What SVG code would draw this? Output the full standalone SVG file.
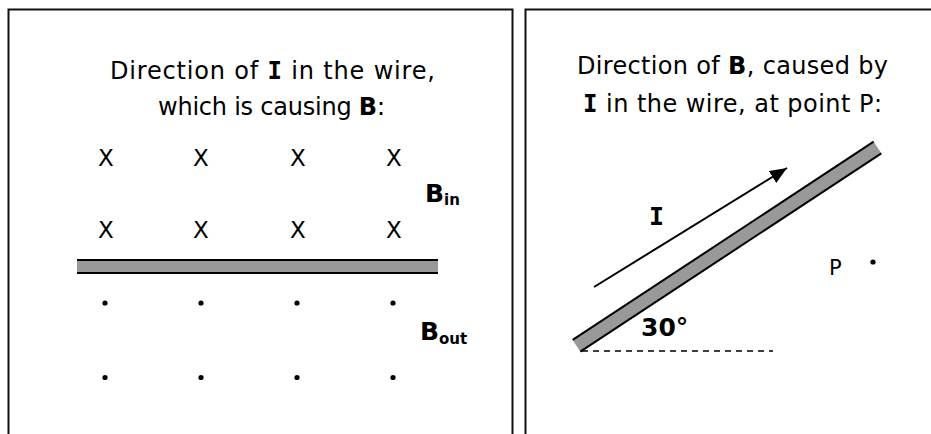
<svg xmlns="http://www.w3.org/2000/svg" width="931" height="434" viewBox="0 0 931 434">
  <style>
    .frame { fill: none; stroke: #111; stroke-width: 2; }
    .t { font-family: "DejaVu Sans", sans-serif; font-size: 24px; fill: #000; }
    .b { font-weight: bold; }
    .big { font-size: 25px; }
    .mono { font-family: "DejaVu Sans Mono", monospace; font-weight: bold; }
    .x { font-family: "DejaVu Sans", sans-serif; font-size: 23px; fill: #000; text-anchor: middle; }
    .wire { fill: #999; stroke: none; }
    .edge { stroke: #000; stroke-width: 2; fill: none; }
    .dot { fill: #000; }
    .sub { font-size: 15px; font-weight: bold; }
  </style>
  <defs>
    <marker id="arrow" markerUnits="userSpaceOnUse" markerWidth="18" markerHeight="14" refX="17" refY="7" orient="auto">
      <path d="M0,0 L17,7 L0,14 z" fill="#000"/>
    </marker>
  </defs>

  <g id="panel-left">
    <rect class="frame" x="8.5" y="9.5" width="504" height="440"/>
    <text class="t" x="110" y="79" textLength="325" lengthAdjust="spacing">Direction of <tspan class="mono">I</tspan> in the wire,</text>
    <text class="t" x="158" y="115" textLength="227" lengthAdjust="spacing">which is causing <tspan class="b">B</tspan>:</text>
    <g id="field-in">
      <text class="x" x="106" y="166">X</text>
      <text class="x" x="201" y="166">X</text>
      <text class="x" x="298" y="166">X</text>
      <text class="x" x="394" y="166">X</text>
      <text class="x" x="106" y="238">X</text>
      <text class="x" x="201" y="238">X</text>
      <text class="x" x="298" y="238">X</text>
      <text class="x" x="394" y="238">X</text>
    </g>
    <text id="label-bin" class="t b big" x="425" y="202">B<tspan class="sub" dy="3">in</tspan></text>
    <g id="wire-horizontal">
      <rect class="wire" x="77" y="260" width="361" height="13"/>
      <line class="edge" x1="77" y1="260" x2="438" y2="260"/>
      <line class="edge" x1="77" y1="273" x2="438" y2="273"/>
    </g>
    <g id="field-out">
      <circle class="dot" cx="105" cy="303" r="2.6"/>
      <circle class="dot" cx="201" cy="303" r="2.6"/>
      <circle class="dot" cx="297" cy="303" r="2.6"/>
      <circle class="dot" cx="393" cy="303" r="2.6"/>
      <circle class="dot" cx="105" cy="377.5" r="2.6"/>
      <circle class="dot" cx="201" cy="377.5" r="2.6"/>
      <circle class="dot" cx="297" cy="377.5" r="2.6"/>
      <circle class="dot" cx="393" cy="377.5" r="2.6"/>
    </g>
    <text id="label-bout" class="t b big" x="420" y="340">B<tspan class="sub" dy="4">out</tspan></text>
  </g>

  <g id="panel-right">
    <rect class="frame" x="525.5" y="9.5" width="420" height="440"/>
    <text class="t" x="577" y="74" textLength="311" lengthAdjust="spacing">Direction of <tspan class="b">B</tspan>, caused by</text>
    <text class="t" x="583" y="112" textLength="299" lengthAdjust="spacing"><tspan class="mono">I</tspan> in the wire, at point P:</text>
    <g id="wire-diagonal">
      <polygon class="wire" points="572.65,339.95 873.65,141.65 881.35,153.35 580.35,351.65"/>
      <line class="edge" x1="572.65" y1="339.95" x2="873.65" y2="141.65"/>
      <line class="edge" x1="580.35" y1="351.65" x2="881.35" y2="153.35"/>
    </g>
    <line id="reference-line" x1="582" y1="351" x2="773" y2="351" stroke="#000" stroke-width="1.5" stroke-dasharray="6 5"/>
    <text id="label-angle" class="t b big" x="641" y="336">30°</text>
    <text id="label-I" class="t mono big" x="649" y="225">I</text>
    <g id="point-P">
      <text class="t" x="829" y="275" style="font-size:21px">P</text>
      <circle class="dot" cx="873" cy="262" r="2.6"/>
    </g>
  </g>

  <g id="connectors">
    <line x1="594" y1="287" x2="787" y2="168" stroke="#000" stroke-width="2" marker-end="url(#arrow)"/>
  </g>
</svg>
